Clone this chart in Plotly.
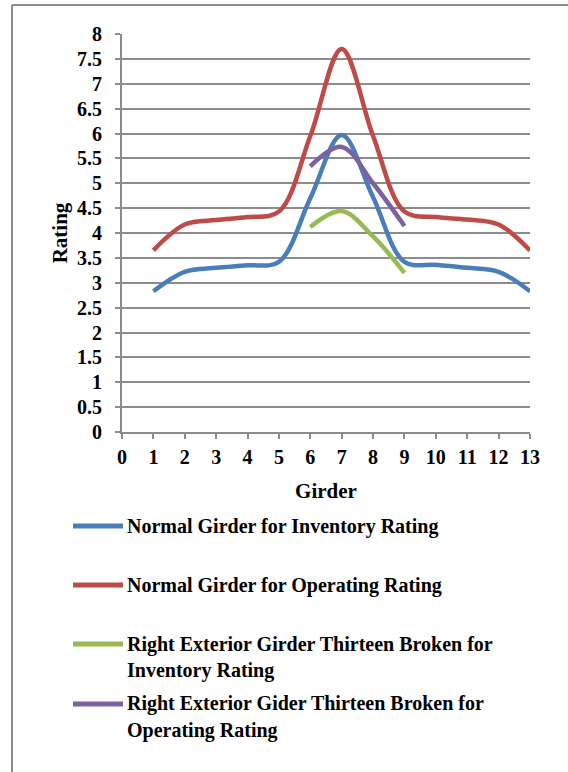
import plotly.graph_objects as go

girders = list(range(1, 14))
normal_inventory = [2.83, 3.22, 3.30, 3.35, 3.42, 4.70, 5.97, 4.72, 3.42, 3.36, 3.30, 3.22, 2.83]
normal_operating = [3.65, 4.17, 4.26, 4.32, 4.43, 5.95, 7.70, 5.95, 4.43, 4.32, 4.27, 4.17, 3.65]
broken_girders = [6, 7, 8, 9]
broken_inventory = [4.12, 4.44, 3.93, 3.20]
broken_operating = [5.34, 5.73, 5.00, 4.14]

series_names = [
    "Normal Girder for Inventory Rating",
    "Normal Girder for Operating Rating",
    "Right Exterior Girder Thirteen Broken for<br>Inventory Rating",
    "Right Exterior Gider Thirteen Broken for<br>Operating Rating",
]
colors = ["#4a7ebb", "#be4b48", "#98b954", "#7d60a0"]
x_ticks = list(range(0, 14))
y_ticks = [i * 0.5 for i in range(17)]

W, H = 568, 772
ML, MR, MT, MB = 122, 38, 34, 340
PW, PH = W - ML - MR, H - MT - MB


def px(x):
    return (x - ML) / PW


def py(y):
    return (H - MB - y) / PH


FONT = "Liberation Serif"
fig = go.Figure()
data = [
    (girders, normal_inventory),
    (girders, normal_operating),
    (broken_girders, broken_inventory),
    (broken_girders, broken_operating),
]
for (xs, ys), name, c in zip(data, series_names, colors):
    fig.add_trace(go.Scatter(
        x=xs, y=ys, mode="lines", name=name,
        line=dict(color=c, width=4.5, shape="spline", smoothing=1.0),
        showlegend=False,
    ))

grid_col = "#8c8c8c"
fig.update_xaxes(
    range=[0, 13], tickvals=x_ticks, ticktext=[str(v) for v in x_ticks],
    showgrid=False, zeroline=False, showline=True, linecolor=grid_col, linewidth=2,
    ticks="outside", ticklen=5, tickcolor=grid_col, tickwidth=2, ticklabelstandoff=1,
    tickfont=dict(family=FONT, size=20, color="black", weight="bold"),
    title=dict(text="<b>Girder</b>", font=dict(family=FONT, size=21, color="black"), standoff=16),
)
fig.update_yaxes(
    range=[0, 8], tickvals=y_ticks, ticktext=[f"{v:g}" for v in y_ticks],
    showgrid=True, gridcolor=grid_col, gridwidth=2, zeroline=False,
    showline=True, linecolor=grid_col, linewidth=2,
    ticks="outside", ticklen=5, tickcolor=grid_col, tickwidth=2, ticklabelstandoff=9,
    tickfont=dict(family=FONT, size=20, color="black", weight="bold"),
    title=dict(text="<b>Rating</b>", font=dict(family=FONT, size=21, color="black"), standoff=4),
)

shapes = [
    dict(type="line", xref="paper", yref="paper", x0=px(12), x1=px(580), y0=py(5), y1=py(5),
         line=dict(color=grid_col, width=2)),
    dict(type="line", xref="paper", yref="paper", x0=px(12), x1=px(12), y0=py(5), y1=py(790),
         line=dict(color=grid_col, width=2)),
]
annotations = []
legend_y = [526, 585, 644, 704]
for name, c, ly in zip(series_names, colors, legend_y):
    shapes.append(dict(type="line", xref="paper", yref="paper", x0=px(73), x1=px(123),
                       y0=py(ly), y1=py(ly), line=dict(color=c, width=5)))
    for k, part in enumerate(name.split("<br>")):
        annotations.append(dict(
            xref="paper", yref="paper", x=px(125), y=py(ly + 26 * k), xanchor="left", yanchor="middle",
            text=f"<b>{part}</b>", showarrow=False,
            font=dict(family=FONT, size=20, color="black"),
        ))

fig.update_layout(
    width=W, height=H, autosize=False,
    margin=dict(l=ML, r=MR, t=MT, b=MB),
    paper_bgcolor="white", plot_bgcolor="white",
    shapes=shapes, annotations=annotations, showlegend=False,
)
fig.write_html("out.html", config={"displayModeBar": False},
               post_script="document.body.style.margin='0px';")
